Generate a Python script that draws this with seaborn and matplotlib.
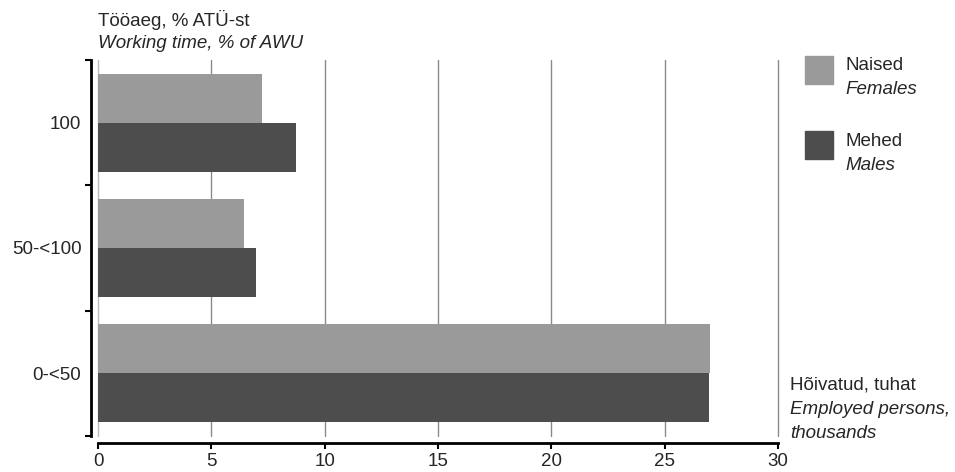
import pandas
import matplotlib
matplotlib.use("Agg")
import matplotlib.pyplot as plt
from matplotlib.patches import Rectangle
import seaborn as sns

categories = ["100", "50-<100", "0-<50"]
females = [7.25, 6.45, 27.0]
males = [8.75, 6.95, 26.95]
series = ["Naised", "Mehed"]
series_en = ["Females", "Males"]
colors = ["#9a9a9a", "#4d4d4d"]
xticks = [0, 5, 10, 15, 20, 25, 30]

df = pandas.DataFrame({
    "cat": categories * 2,
    "value": females + males,
    "sex": [series[0]] * 3 + [series[1]] * 3,
})

sns.set_style("white", {"xtick.bottom": True, "ytick.left": True})
plt.rcParams["font.family"] = ["Liberation Sans", "DejaVu Sans"]
fs = 13.5
plt.rcParams["xtick.labelsize"] = fs
plt.rcParams["ytick.labelsize"] = fs

fig = plt.figure(figsize=(9.55, 4.72), dpi=100)
ax = fig.add_axes([98 / 955, 1 - 436 / 472, 680 / 955, 376 / 472])

sns.barplot(data=df, y="cat", x="value", hue="sex", order=categories,
            palette=colors, width=0.78, orient="h", ax=ax, legend=False,
            saturation=1, linewidth=0)

ax.set_xlim(0, 30)
ax.set_ylim(2.5, -0.5)
ax.set_xticks(xticks)
ax.set_xticklabels([str(t) for t in xticks])
ax.set_xlabel("")
ax.set_ylabel("")
ax.tick_params(axis="y", which="major", left=False, length=0, pad=7, labelsize=fs)
ax.set_yticks([-0.5, 0.5, 1.5, 2.5], minor=True)
ax.tick_params(axis="y", which="minor", left=True, length=4, width=1.5, color="black", direction="out")
ax.tick_params(axis="x", which="major", bottom=True, length=4, width=1.5, color="black",
               direction="out", pad=3, labelsize=fs)

for t in xticks:
    ax.axvline(t, color="#bbbbbb" if t == 0 else "#8a8a8a", linewidth=1, zorder=0, clip_on=False)
ax.set_axisbelow(True)

for s in ["top", "right"]:
    ax.spines[s].set_visible(False)
ax.spines["left"].set_position(("outward", 5))
ax.spines["bottom"].set_position(("outward", 5))
ax.spines["left"].set_linewidth(2)
ax.spines["bottom"].set_linewidth(2)
ax.spines["left"].set_color("black")
ax.spines["bottom"].set_color("black")

fig.text(98 / 955, 1 - 20 / 472, "Tööaeg, % ATÜ-st", fontsize=fs, va="center")
fig.text(98 / 955, 1 - 44 / 472, "Working time, % of AWU", fontsize=fs, style="italic", va="center")

# legend
for i, (lab, lab_en, c) in enumerate(zip(series, series_en, colors)):
    y0 = 56 + i * 75
    fig.add_artist(Rectangle((805 / 955, 1 - (y0 + 28) / 472), 28 / 955, 28 / 472,
                             transform=fig.transFigure, color=c))
    fig.text(845 / 955, 1 - (y0 + 10) / 472, lab, fontsize=fs, va="center")
    fig.text(845 / 955, 1 - (y0 + 34) / 472, lab_en, fontsize=fs, style="italic", va="center")

fig.text(790 / 955, 1 - 385 / 472, "Hõivatud, tuhat", fontsize=fs, va="center")
fig.text(790 / 955, 1 - 410 / 472, "Employed persons,", fontsize=fs, style="italic", va="center")
fig.text(790 / 955, 1 - 434 / 472, "thousands", fontsize=fs, style="italic", va="center")

plt.savefig("out.png", dpi=100)
